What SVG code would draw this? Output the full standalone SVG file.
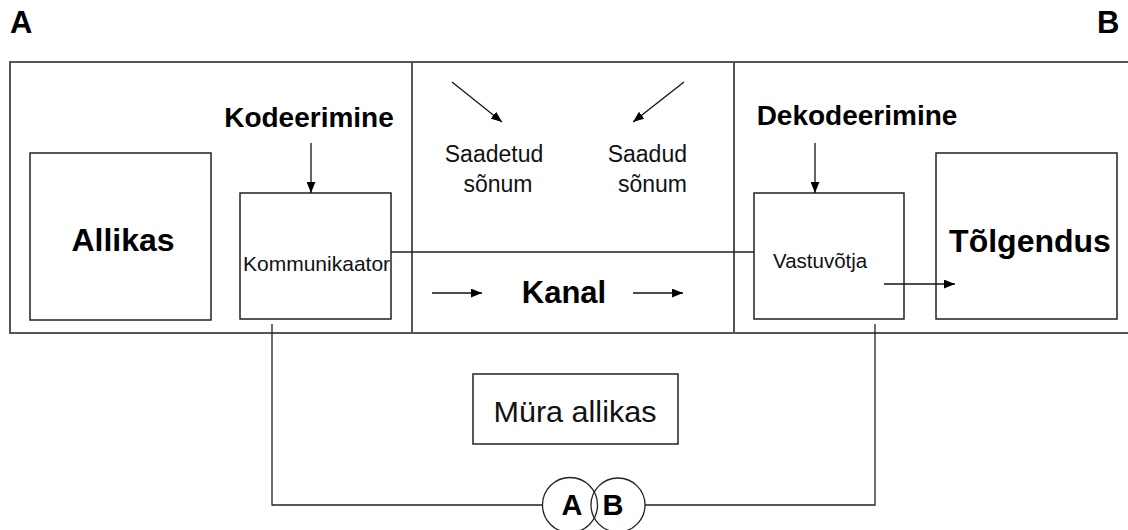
<svg xmlns="http://www.w3.org/2000/svg" width="1128" height="530" viewBox="0 0 1128 530">
<defs>
<marker id="ah" viewBox="0 0 10 8" refX="10" refY="4" markerWidth="11" markerHeight="9" markerUnits="userSpaceOnUse" orient="auto">
<path d="M0,0 L10,4 L0,8 Z" fill="#000"/>
</marker>
<style>
.frame{fill:none;stroke:#555;stroke-width:2}
.box{fill:#fff;stroke:#222;stroke-width:1.5}
.ln{fill:none;stroke:#222;stroke-width:1.3}
.arr{fill:none;stroke:#111;stroke-width:1.3;marker-end:url(#ah)}
.b{font-family:"Liberation Sans",Arial,sans-serif;font-weight:bold;fill:#000}
.r{font-family:"Liberation Sans",Arial,sans-serif;fill:#111}
</style>
</defs>
<rect width="1128" height="530" fill="#fff"/>
<g id="labels">
<text class="b" x="10" y="33" font-size="31">A</text>
<text class="b" x="1097" y="33" font-size="31">B</text>
</g>
<g id="frame">
<path class="frame" d="M1128,62 H10 V333 H1128"/>
<line class="frame" x1="412" y1="62" x2="412" y2="333" stroke-width="1.5"/>
<line class="frame" x1="734" y1="62" x2="734" y2="333" stroke-width="1.5"/>
</g>
<g id="allikas">
<rect class="box" x="30" y="153" width="181" height="167"/>
<text class="b" x="123" y="251" font-size="32" text-anchor="middle">Allikas</text>
</g>
<g id="kodeerimine">
<text class="b" x="309" y="127" font-size="28" text-anchor="middle">Kodeerimine</text>
</g>
<g id="kommunikaator">
<rect class="box" x="240" y="193" width="151" height="126"/>
<text class="r" x="243" y="271" font-size="21">Kommunikaator</text>
</g>
<g id="saadetud">
<text class="r" x="494" y="162" font-size="23" text-anchor="middle">Saadetud</text>
<text class="r" x="498" y="192" font-size="23" text-anchor="middle">sõnum</text>
</g>
<g id="saadud">
<text class="r" x="687" y="162" font-size="23" text-anchor="end">Saadud</text>
<text class="r" x="687" y="192" font-size="23" text-anchor="end">sõnum</text>
</g>
<g id="kanal">
<text class="b" x="564" y="303" font-size="31" text-anchor="middle">Kanal</text>
</g>
<g id="dekodeerimine">
<text class="b" x="857" y="125" font-size="28" text-anchor="middle">Dekodeerimine</text>
</g>
<g id="vastuvotja">
<rect class="box" x="754" y="193" width="150" height="126"/>
<text class="r" x="773" y="268" font-size="20.5">Vastuvõtja</text>
</g>
<g id="tolgendus">
<rect class="box" x="936" y="153" width="181" height="166"/>
<text class="b" x="1030" y="252" font-size="32" text-anchor="middle">Tõlgendus</text>
</g>
<g id="mura">
<rect class="box" x="473" y="374" width="205" height="70"/>
<text class="r" x="575" y="422" font-size="30" text-anchor="middle" textLength="163" lengthAdjust="spacingAndGlyphs">Müra allikas</text>
</g>
<g id="connectors">
<line class="ln" x1="391" y1="252" x2="754" y2="252"/>
<polyline class="ln" points="272,324 272,505 543,505"/>
<polyline class="ln" points="645,505 875,505 875,324"/>
<line class="arr" x1="311" y1="143" x2="311" y2="193"/>
<line class="arr" x1="815" y1="143" x2="815" y2="193"/>
<line class="arr" x1="452" y1="82" x2="502" y2="122"/>
<line class="arr" x1="684" y1="82" x2="633" y2="122"/>
<line class="arr" x1="432" y1="293" x2="482" y2="293"/>
<line class="arr" x1="633" y1="293" x2="683" y2="293"/>
<line class="arr" x1="884" y1="284" x2="955" y2="284"/>
</g>
<g id="ab">
<circle class="ln" cx="570" cy="505" r="27.5" fill="none"/>
<circle class="ln" cx="618" cy="505" r="27" fill="none"/>
<text class="b" x="572" y="515" font-size="29" text-anchor="middle">A</text>
<text class="b" x="613" y="515" font-size="29" text-anchor="middle">B</text>
</g>
</svg>
